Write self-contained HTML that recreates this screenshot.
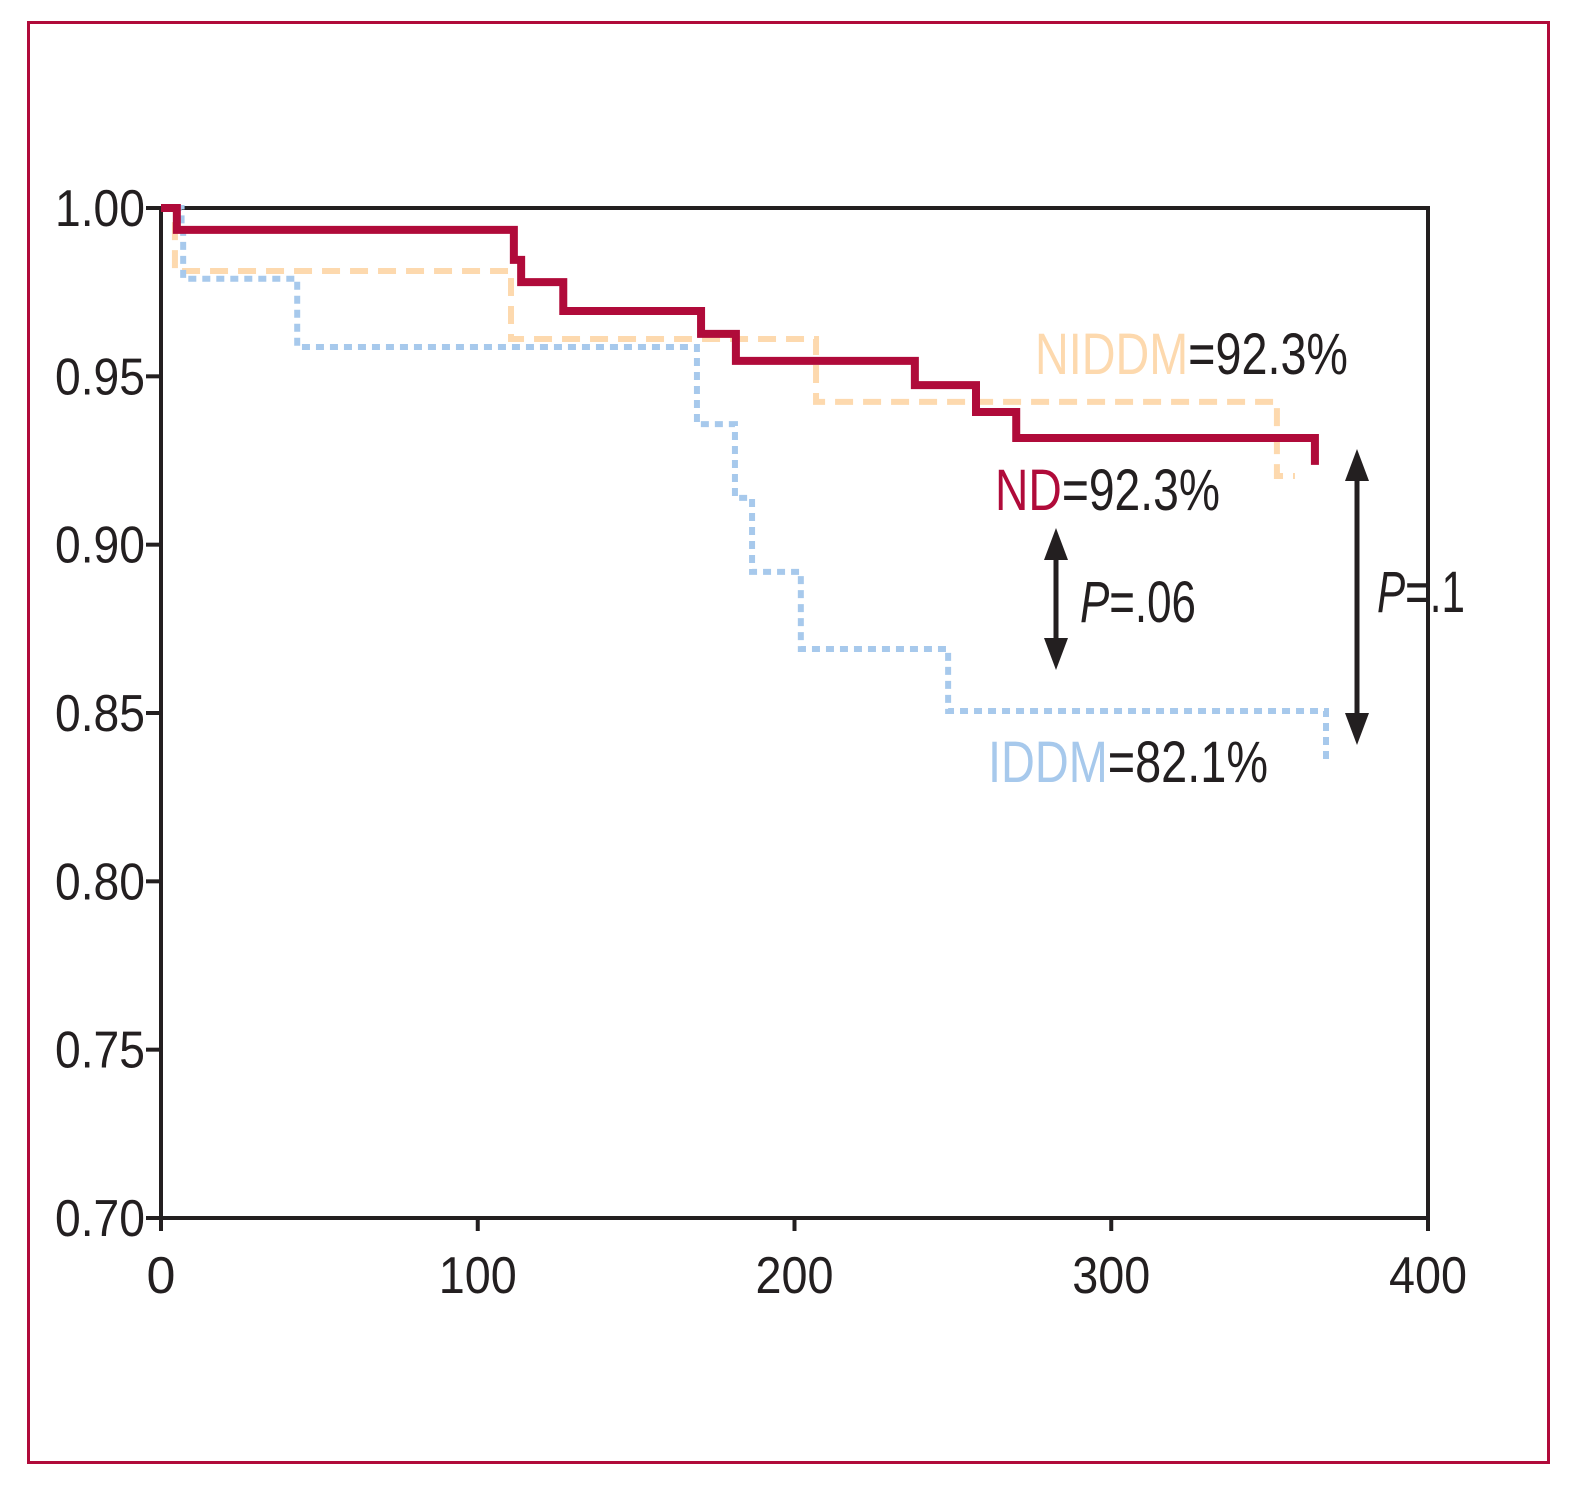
<!DOCTYPE html>
<html><head><meta charset="utf-8"><style>
html,body{margin:0;padding:0;background:#fff;}
svg{display:block;}
text{font-family:"Liberation Sans Narrow","Liberation Sans",sans-serif;fill:#231F20;}
</style></head><body>
<svg id="chart" width="1585" height="1495" viewBox="0 0 1585 1495" xmlns="http://www.w3.org/2000/svg">
<rect x="28.5" y="22.5" width="1520" height="1440" fill="none" stroke="#B00B3A" stroke-width="3"/>
<g id="axes"></g>
<g id="series"></g>
<g id="annot"></g>
</svg>
<script>
const xTicks=[0,100,200,300,400];
const yTicks=[0.70,0.75,0.80,0.85,0.90,0.95,1.00];
const yTickLabels=["0.70","0.75","0.80","0.85","0.90","0.95","1.00"];
const ndT=[0,5,111.4,113.7,127,170.5,181.5,238,257.3,270,364.3];
const ndV=[1.0,0.9935,0.9846,0.978,0.9694,0.9626,0.9546,0.9474,0.9394,0.9317,0.9237];
const niddmT=[0,4.4,110.5,206.8,352.3,358];
const niddmV=[1.0,0.9813,0.9611,0.9424,0.9204,0.9204];
const iddmT=[0,6.5,7,43,169.2,181.2,186.6,202,248.5,367.8,368];
const iddmV=[1.0,0.9935,0.979,0.9587,0.9358,0.9139,0.8919,0.869,0.8506,0.836,0.836];

const X0=161,X1=1428,Y0=1218,Y1=208;
const xs=t=>X0+(t-0)/(400-0)*(X1-X0);
const ys=v=>Y0-(v-0.70)/(1.00-0.70)*(Y0-Y1);
const NS="http://www.w3.org/2000/svg";
function mk(tag,attrs,parent){const e=document.createElementNS(NS,tag);for(const k in attrs)e.setAttribute(k,attrs[k]);parent.appendChild(e);return e;}
const axes=document.getElementById('axes'),series=document.getElementById('series'),annot=document.getElementById('annot');

const frame=mk('rect',{x:X0,y:Y1,width:X1-X0,height:Y0-Y1,fill:'none',stroke:'#231F20','stroke-width':4},axes);


yTicks.forEach((v,i)=>{
  const l=mk('line',{x1:146,x2:X0,y1:ys(v),y2:ys(v),stroke:'#231F20','stroke-width':4},axes);
  
  
  const t=mk('text',{x:145,y:ys(v)+18,'text-anchor':'end','font-size':52,textLength:90,lengthAdjust:'spacingAndGlyphs'},axes);
  t.textContent=yTickLabels[i];
  
  
});
xTicks.forEach(v=>{
  const l=mk('line',{x1:xs(v),x2:xs(v),y1:Y0,y2:1231,stroke:'#231F20','stroke-width':4},axes);
  
  
  const s=String(v);
  const t=mk('text',{x:xs(v),y:1293,'text-anchor':'middle','font-size':52},axes);
  if(s.length>1){t.setAttribute('textLength',s.length*26);t.setAttribute('lengthAdjust','spacingAndGlyphs');}
  t.textContent=s;
  
  
});

function stepPath(T,V){let d='M'+xs(T[0])+','+ys(V[0]);for(let i=1;i<T.length;i++){d+=' H'+xs(T[i])+' V'+ys(V[i]);}return d;}
const pN=mk('path',{d:stepPath(niddmT,niddmV),fill:'none',stroke:'#FDD9AE','stroke-width':6,'stroke-dasharray':'18 10'},series);


const pI=mk('path',{d:stepPath(iddmT,iddmV),fill:'none',stroke:'#A7C9EC','stroke-width':6,'stroke-dasharray':'8 6'},series);


const pD=mk('path',{d:stepPath(ndT,ndV),fill:'none',stroke:'#B00B3A','stroke-width':8},series);



function arrow(x,y1,y2,name){
  const g=mk('g',{},annot);
  
  
  mk('line',{x1:x,x2:x,y1:y1+30,y2:y2-30,stroke:'#231F20','stroke-width':5},g);
  mk('polygon',{points:`${x},${y1} ${x-12},${y1+32} ${x+12},${y1+32}`,fill:'#231F20'},g);
  mk('polygon',{points:`${x},${y2} ${x-12},${y2-32} ${x+12},${y2-32}`,fill:'#231F20'},g);
}
arrow(1056,528,670,'p06-arrow');
arrow(1357,449,745,'p1-arrow');

function label(x,y,w,parts,name){
  const t=mk('text',{x:x,y:y,'font-size':58,textLength:w,lengthAdjust:'spacingAndGlyphs'},annot);
  
  
  parts.forEach(p=>{const s=mk('tspan',p.a||{},t);s.textContent=p.s;});
}
label(1035,374,313,[{s:'NIDDM',a:{fill:'#FDD9AE'}},{s:'=92.3%'}],'niddm-label');
label(995,510,225,[{s:'ND',a:{fill:'#B00B3A'}},{s:'=92.3%'}],'nd-label');
label(1080,622,116,[{s:'P',a:{'font-style':'italic'}},{s:'=.06'}],'p06-label');
label(1377,612,88,[{s:'P',a:{'font-style':'italic'}},{s:'=.1'}],'p1-label');
label(988,782,280,[{s:'IDDM',a:{fill:'#A7C9EC'}},{s:'=82.1%'}],'iddm-label');
</script>
</body></html>
